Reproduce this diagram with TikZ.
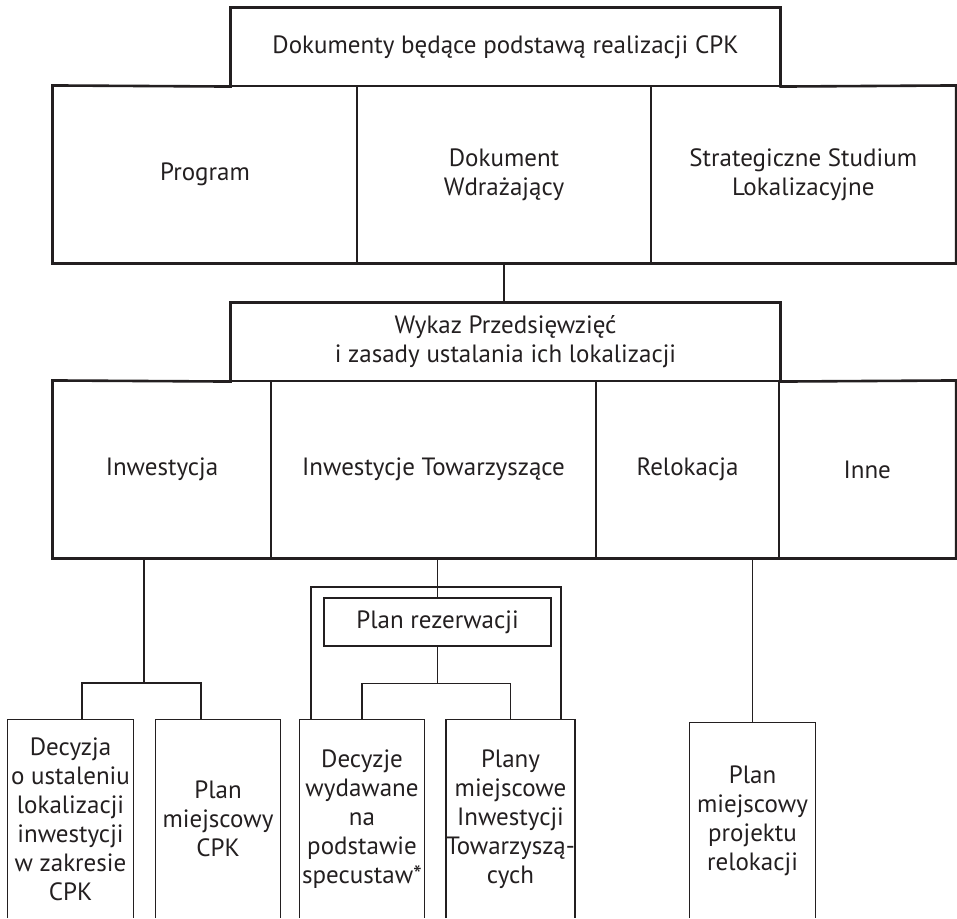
\documentclass[tikz,border=0pt]{standalone}
\usepackage{fontspec}
\setmainfont{PT Sans}
\definecolor{ink}{HTML}{231F20}
\begin{document}
\begin{tikzpicture}[x=1pt,y=-1pt,
  every node/.style={text=ink, font=\fontsize{25}{29}\selectfont, align=center, inner sep=0pt},
  cell/.style={draw=ink, line width=1.1pt},
  outline/.style={draw=ink, line width=2.6pt, line join=miter},
  link/.style={draw=ink, line width=1.2pt},
  leaf/.style={minimum width=125pt, minimum height=198pt}
]
\useasboundingbox (0,0) rectangle (957,918);

% ---------- group 1
\node[cell, minimum width=549pt, minimum height=78pt] (t1) at (505.5,47) {Dokumenty będące podstawą realizacji CPK};
\node[cell, minimum width=304pt, minimum height=177pt] (c11) at (205,174.5) {Program};
\node[cell, minimum width=294pt, minimum height=177pt] (c12) at (504,174.5) {Dokument\\Wdrażający};
\node[cell, minimum width=304.5pt, minimum height=177pt] (c13) at (803.25,174.5) {Strategiczne Studium\\Lokalizacyjne};
\draw[outline] (c11.north west) -- (t1.south west) -- (t1.north west) -- (t1.north east) -- (t1.south east)
  -- (c13.north east) -- (c13.south east) -- (c11.south west) -- cycle;

% ---------- group 2
\node[cell, minimum width=549pt, minimum height=78pt] (t2) at (505.5,342) {Wykaz Przedsięwzięć\\i zasady ustalania ich lokalizacji};
\node[cell, minimum width=218pt, minimum height=177pt] (c21) at (162,469.5) {Inwestycja};
\node[cell, minimum width=325pt, minimum height=177pt] (c22) at (433.5,469.5) {Inwestycje Towarzyszące};
\node[cell, minimum width=183pt, minimum height=177pt] (c23) at (687.5,469.5) {Relokacja};
\node[cell, minimum width=176.5pt, minimum height=177pt] (c24) at (867.25,469.5) {Inne};
\draw[outline] (c21.north west) -- (t2.south west) -- (t2.north west) -- (t2.north east) -- (t2.south east)
  -- (c24.north east) -- (c24.south east) -- (c21.south west) -- cycle;

\draw[link] (c12.south) -- (c12.south |- t2.north);

% ---------- leaves
\node[leaf] (b1) at (70.5,819) {Decyzja\\o ustaleniu\\lokalizacji\\inwestycji\\w zakresie\\CPK};
\node[leaf] (b2) at (218,819) {Plan\\miejscowy\\CPK};
\node[leaf] (b3) at (362,819) {Decyzje\\wydawane\\na\\podstawie\\specustaw*};
\node[leaf] (b4) at (510.5,819) {Plany\\miejscowe\\Inwestycji\\Towarzyszą-\\cych};
\node[leaf, minimum height=195pt] (b5) at (752.5,820.5) {Plan\\miejscowy\\projektu\\relokacji};
\foreach \b in {b1,b2,b3,b4,b5}
  \draw[link] (\b.south west) -- (\b.north west) -- (\b.north east) -- (\b.south east);

% Inwestycja fork
\coordinate (fA) at (144,683);
\draw[link] (c21.south -| fA) -- (fA);
\draw[link] ([xshift=11.5pt]b1.north) |- (fA) -| ([xshift=-17pt]b2.north);

% Inwestycje Towarzyszace frame
\coordinate (frL) at (311,587);
\coordinate (frR) at (561,587);
\draw[link] (b3.north -| frL) -- (frL) -- (frR) -- (b4.north -| frR);
\node[cell, minimum width=227pt, minimum height=48pt] (pr) at (437.5,622) {Plan rezerwacji};
\draw[link] (c22.south -| pr.north) -- (pr.north);
\draw[link] (pr.south) -- ++(0,37) coordinate (fB);
\draw[link] (b3.north) |- (fB) -| (b4.north);

% Relokacja
\draw[link] (b5.north) -- (b5.north |- c23.south);
\end{tikzpicture}
\end{document}
